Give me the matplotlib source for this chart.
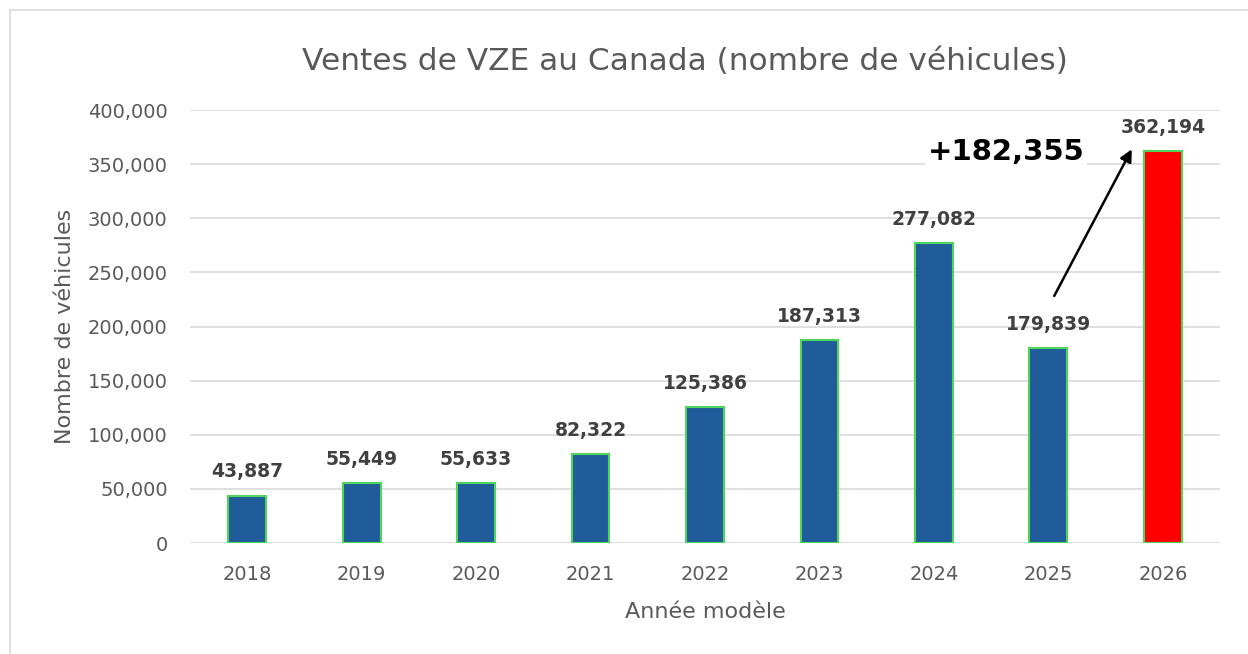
import matplotlib
matplotlib.use('Agg')
import matplotlib.pyplot as plt
from matplotlib.patches import Rectangle

annees = ['2018', '2019', '2020', '2021', '2022', '2023', '2024', '2025', '2026']
ventes = [43887, 55449, 55633, 82322, 125386, 187313, 277082, 179839, 362194]
couleurs = ['#1f5c99'] * 8 + ['#ff0000']
hausse = '+182,355'

plt.rcParams['font.family'] = ['DejaVu Sans']

fig = plt.figure(figsize=(12.48, 6.54), dpi=100)
ax = fig.add_axes([0.1522, 0.1697, 0.8254, 0.6621])

x = list(range(len(annees)))
ax.bar(x, ventes, width=0.33, color=couleurs, edgecolor='#4fd65a', linewidth=1.5, zorder=3)

for xi, v in zip(x, ventes):
    ax.text(xi, v + 13000, f'{v:,}', ha='center', va='bottom', fontsize=13.5,
            fontweight='bold', color='#404040', zorder=4)

ax.set_xlim(-0.5, len(annees) - 0.5)
ax.set_ylim(0, 400000)
ax.set_yticks(range(0, 400001, 50000))
ax.set_yticklabels([f'{t:,}' for t in range(0, 400001, 50000)])
ax.set_xticks(x)
ax.set_xticklabels(annees)
ax.tick_params(axis='both', length=0, labelsize=14, labelcolor='#595959')
ax.tick_params(axis='x', pad=16)
ax.tick_params(axis='y', pad=16)
ax.grid(axis='y', color='#d9d9d9', linewidth=1.2, zorder=0)
for s in ax.spines.values():
    s.set_visible(False)

fig.text(685 / 1248, 1 - 62 / 654, 'Ventes de VZE au Canada (nombre de véhicules)',
         ha='center', va='center', fontsize=22.5, color='#595959')
ax.set_xlabel('Année modèle', fontsize=16, color='#595959', labelpad=13)
ax.set_ylabel('Nombre de véhicules', fontsize=16, color='#595959', labelpad=9)

# fleche de 2025 vers 2026
ax.annotate('', xy=(7.74, 366000), xytext=(7.04, 226000),
            arrowprops=dict(arrowstyle='-|>', color='black', lw=1.8, mutation_scale=18), zorder=5)
ax.text(6.63, 361000, hausse, ha='center', va='center', fontsize=21, fontweight='bold',
        color='black', zorder=5, bbox=dict(facecolor='white', edgecolor='none', pad=2))

fig.patches.append(Rectangle((10 / 1248, -0.1), 1.2, 1 - 10 / 654 + 0.1, transform=fig.transFigure,
                             fill=False, edgecolor='#d9d9d9', linewidth=1.2))

fig.savefig('out.png', dpi=100)
